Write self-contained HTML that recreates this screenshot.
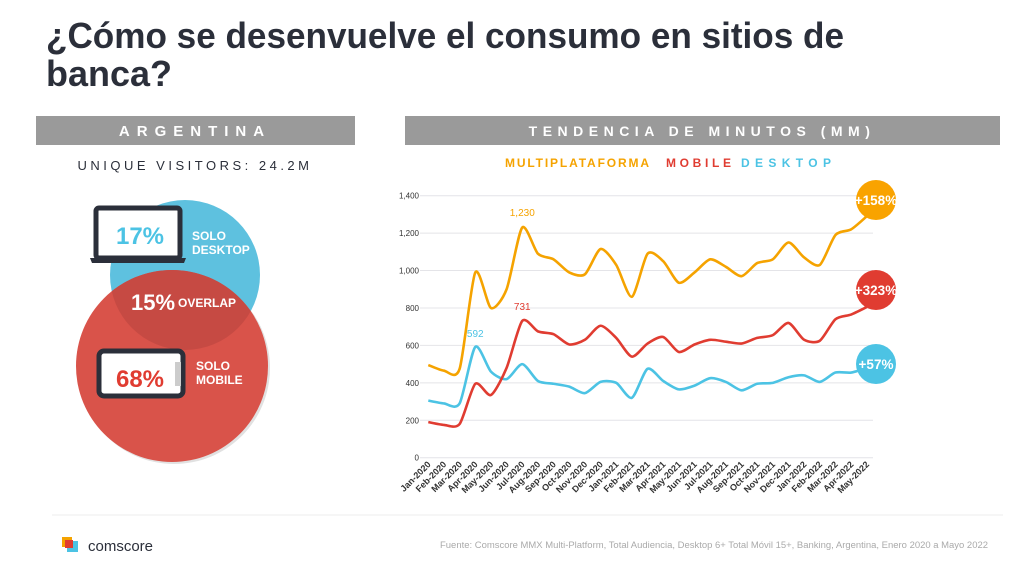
<!DOCTYPE html>
<html><head><meta charset="utf-8"><style>
html,body{margin:0;padding:0;background:#fff;}
svg{display:block;font-family:"Liberation Sans",sans-serif;}
</style></head><body>
<svg id="s" width="1024" height="576" viewBox="0 0 1024 576" xmlns="http://www.w3.org/2000/svg">
<text x="46" y="48" font-size="36" font-weight="bold" fill="#2b2f3a" textLength="798" lengthAdjust="spacingAndGlyphs">¿Cómo se desenvuelve el consumo en sitios de</text>
<text x="46" y="86" font-size="36" font-weight="bold" fill="#2b2f3a" textLength="126" lengthAdjust="spacingAndGlyphs">banca?</text>
<rect x="36" y="116" width="319" height="29" fill="#9a9a9a"/>
<text x="195" y="136" font-size="15" font-weight="bold" fill="#fff" text-anchor="middle" letter-spacing="7">ARGENTINA</text>
<rect x="405" y="116" width="595" height="29" fill="#9a9a9a"/>
<text x="702" y="136" font-size="14" font-weight="bold" fill="#fff" text-anchor="middle" letter-spacing="5.5">TENDENCIA DE MINUTOS (MM)</text>
<text x="195" y="170" font-size="13" fill="#2b2f3a" text-anchor="middle" letter-spacing="3.5">UNIQUE VISITORS: 24.2M</text>
<text x="505" y="167" font-size="12" font-weight="bold" fill="#f5a300" textLength="144" lengthAdjust="spacing">MULTIPLATAFORMA</text>
<text x="666" y="167" font-size="12" font-weight="bold" fill="#e03c31" textLength="65" lengthAdjust="spacing">MOBILE</text>
<text x="741" y="167" font-size="12" font-weight="bold" fill="#4cc3e4" textLength="90" lengthAdjust="spacing">DESKTOP</text>
<!-- venn -->
<circle cx="185" cy="275" r="75" fill="#5ec1df"/>
<circle cx="174" cy="368" r="96" fill="#aaa" opacity="0.35"/>
<circle cx="172" cy="366" r="96" fill="#d9534a"/>
<clipPath id="cb"><circle cx="185" cy="275" r="75"/></clipPath>
<circle cx="172" cy="366" r="96" fill="#c64a43" clip-path="url(#cb)"/>
<rect x="96" y="208" width="84" height="50" rx="3" fill="#fff" stroke="#2b2f3a" stroke-width="5"/>
<path d="M90 258 H186 L184 263 H92 Z" fill="#2b2f3a"/>
<text x="140" y="244" font-size="24" font-weight="bold" fill="#4cc3e4" text-anchor="middle">17%</text>
<text x="192" y="240" font-size="12" font-weight="bold" fill="#fff">SOLO</text>
<text x="192" y="254" font-size="12" font-weight="bold" fill="#fff">DESKTOP</text>
<text x="153" y="310" font-size="22" font-weight="bold" fill="#fff" text-anchor="middle">15%</text>
<text x="178" y="307" font-size="12" font-weight="bold" fill="#fff">OVERLAP</text>
<rect x="99" y="351" width="84" height="45" rx="5" fill="#fff" stroke="#2b2f3a" stroke-width="5"/>
<rect x="175" y="362" width="6" height="24" fill="#ccc"/>
<text x="140" y="387" font-size="24" font-weight="bold" fill="#e03c31" text-anchor="middle">68%</text>
<text x="196" y="370" font-size="12" font-weight="bold" fill="#fff">SOLO</text>
<text x="196" y="384" font-size="12" font-weight="bold" fill="#fff">MOBILE</text>
<g id="chart"></g>
<line x1="52" y1="515" x2="1003" y2="515" stroke="#eee"/>
<rect x="62" y="537" width="10" height="10" fill="#f5a300"/>
<rect x="67" y="541" width="11" height="11" fill="#4cc3e4"/>
<rect x="65" y="540" width="8" height="8" fill="#e03c31"/>
<text x="88" y="551" font-size="15" fill="#2b2f3a">comscore</text>
<text x="988" y="548" font-size="9" fill="#aaa" text-anchor="end" textLength="548" lengthAdjust="spacingAndGlyphs">Fuente: Comscore MMX Multi-Platform, Total Audiencia, Desktop 6+ Total Móvil 15+, Banking, Argentina, Enero 2020 a Mayo 2022</text>
</svg>
<script>
var NS="http://www.w3.org/2000/svg",g=document.getElementById("chart");
function el(t,a,txt){var e=document.createElementNS(NS,t);for(var k in a)e.setAttribute(k,a[k]);if(txt!=null)e.textContent=txt;g.appendChild(e);return e;}
var y0=457.7,py=(457.7-195.7)/1400,x0=428.3,dx=15.66;
function Y(v){return y0-v*py;}function X(i){return x0+i*dx;}
for(var v=0;v<=1400;v+=200){el("line",{x1:420,x2:873,y1:Y(v),y2:Y(v),stroke:"#e4e4e8","stroke-width":1});
el("text",{x:419,y:Y(v)+3,"font-size":8,fill:"#333","text-anchor":"end"},v==0?"0":(v>=1000?"1,"+String(v-1000).padStart(3,"0"):v));}
var m=["Jan","Feb","Mar","Apr","May","Jun","Jul","Aug","Sep","Oct","Nov","Dec"];
for(var i=0;i<29;i++){var yr=2020+Math.floor(i/12);var lb=m[i%12]+"-"+yr;
el("text",{x:X(i)+3,y:465,"font-size":9,"font-weight":"bold",fill:"#333","text-anchor":"end",transform:"rotate(-45 "+(X(i)+3)+" 465)"},lb);}
var O=[495,465,475,990,800,900,1230,1090,1060,990,980,1115,1030,860,1090,1050,935,990,1060,1020,970,1040,1060,1150,1070,1030,1190,1220,1290];
var R=[190,175,180,395,335,480,731,675,660,605,630,705,640,540,610,645,565,605,630,620,610,640,655,720,630,625,740,765,805];
var B=[305,290,290,592,460,420,500,410,395,380,345,405,400,320,475,410,365,385,425,405,360,395,400,430,440,405,455,455,480];
function path(d){var p=d.map(function(v,i){return[X(i),Y(v)]});var s="M"+p[0];
for(var i=0;i<p.length-1;i++){var a=p[Math.max(i-1,0)],b=p[i],c=p[i+1],e=p[Math.min(i+2,p.length-1)];
s+=" C"+(b[0]+(c[0]-a[0])/8)+","+(b[1]+(c[1]-a[1])/8)+" "+(c[0]-(e[0]-b[0])/8)+","+(c[1]-(e[1]-b[1])/8)+" "+c;}return s;}
[[B,"#4cc3e4"],[R,"#e03c31"],[O,"#f5a300"]].forEach(function(q){el("path",{d:path(q[0]),fill:"none",stroke:q[1],"stroke-width":2.6});});
el("text",{x:X(6),y:216,"font-size":10,fill:"#f5a300","text-anchor":"middle"},"1,230");
el("text",{x:X(6),y:310,"font-size":10,fill:"#e03c31","text-anchor":"middle"},"731");
el("text",{x:X(3),y:337,"font-size":10,fill:"#4cc3e4","text-anchor":"middle"},"592");
[[200,"#f9a300","+158%"],[290,"#e03c31","+323%"],[364,"#4cc3e4","+57%"]].forEach(function(c){
el("circle",{cx:876,cy:c[0],r:20,fill:c[1]});
el("text",{x:876,y:c[0]+5,"font-size":13.5,"font-weight":"bold",fill:"#fff","text-anchor":"middle"},c[2]);});
</script>
</body></html>
